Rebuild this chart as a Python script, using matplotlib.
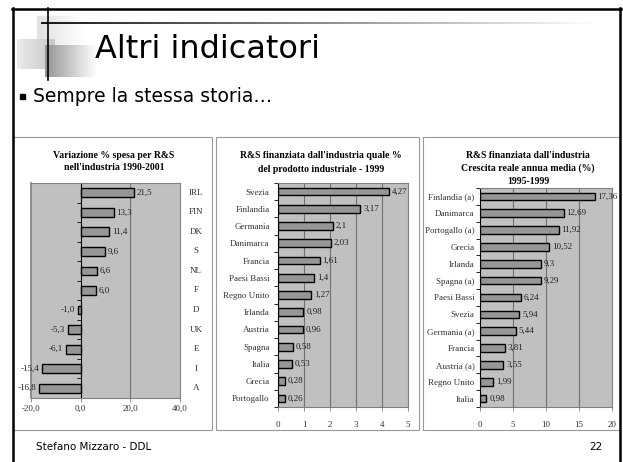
import numpy as np
import matplotlib

matplotlib.use("Agg")
import matplotlib.pyplot as plt
from matplotlib.patches import Rectangle
from matplotlib.transforms import blended_transform_factory

W, H = 623, 462

# chart 1: variazione % spesa R&S nell'industria 1990-2001
codes1 = ["IRL", "FIN", "DK", "S", "NL", "F", "D", "UK", "E", "I", "A"]
vals1 = [21.5, 13.3, 11.4, 9.6, 6.6, 6.0, -1.0, -5.3, -6.1, -15.4, -16.8]
ticks1 = [-20, 0, 20, 40]

# chart 2: R&S finanziata dall'industria, % prodotto industriale 1999
countries2 = ["Svezia", "Finlandia", "Germania", "Danimarca", "Francia",
              "Paesi Bassi", "Regno Unito", "Irlanda", "Austria", "Spagna",
              "Italia", "Grecia", "Portogallo"]
vals2 = [4.27, 3.17, 2.1, 2.03, 1.61, 1.4, 1.27, 0.98, 0.96, 0.58, 0.53, 0.28, 0.26]
ticks2 = [0, 1, 2, 3, 4, 5]

# chart 3: crescita reale annua media 1995-1999
countries3 = ["Finlandia (a)", "Danimarca", "Portogallo (a)", "Grecia", "Irlanda",
              "Spagna (a)", "Paesi Bassi", "Svezia", "Germania (a)", "Francia",
              "Austria (a)", "Regno Unito", "Italia"]
vals3 = [17.36, 12.69, 11.92, 10.52, 9.3, 9.29, 6.24, 5.94, 5.44, 3.81, 3.55, 1.99, 0.98]
ticks3 = [0, 5, 10, 15, 20]

SERIF = "Liberation Serif"
FS = 6.5
BAR = "#969696"
PLOT_BG = "#c0c0c0"
GRID = "#707070"


def comma(v, nd=None):
    s = f"{v:.{nd}f}" if nd is not None else f"{v:g}"
    return s.replace(".", ",")


def px_rect(x0, y0, x1, y1):
    return [x0 / W, 1 - y1 / H, (x1 - x0) / W, (y1 - y0) / H]


fig = plt.figure(figsize=(W / 100, H / 100), dpi=100)
fig.patch.set_facecolor("white")

# background / slide decoration in pixel coords
bg = fig.add_axes([0, 0, 1, 1], zorder=-5)
bg.axis("off")


def hgrad(x0, y0, x1, y1, c0, c1):
    g = np.linspace(0, 1, 64)[None, :, None]
    a = np.array(c0)[None, None, :]
    b = np.array(c1)[None, None, :]
    img = a + (b - a) * g
    bg.imshow(img, extent=(x0, x1, y1, y0), aspect="auto", interpolation="bilinear")


hgrad(37, 16, 83, 47, (0.88, 0.88, 0.88), (1, 1, 1))
hgrad(17, 39, 55, 69, (0.92, 0.92, 0.92), (0.78, 0.78, 0.78))
hgrad(45, 45, 97, 77, (0.58, 0.58, 0.58), (1, 1, 1))
hgrad(41, 22, 600, 24, (0.1, 0.1, 0.1), (1, 1, 1))
bg.plot([48, 48], [8, 80], color="black", lw=1.2)

# slide frame
bg.plot([13, 13], [8, H], color="black", lw=1.8)
bg.plot([12, 621], [9, 9], color="black", lw=1.8)
bg.plot([620, 620], [8, H], color="black", lw=1.8)

# panel boxes
for x0, x1 in [(13, 212), (216, 419), (423, 620)]:
    bg.add_patch(Rectangle((x0, 137), x1 - x0, 293, fill=False,
                           edgecolor="#9a9a9a", lw=0.8))
bg.set_xlim(0, W)
bg.set_ylim(H, 0)

fig.text(95 / W, 1 - 49 / H, "Altri indicatori", fontsize=23,
         family="DejaVu Sans", va="center", ha="left")
bg.add_patch(Rectangle((20, 94), 5, 5, color="black"))
fig.text(33 / W, 1 - 97 / H, "Sempre la stessa storia\u2026", fontsize=13.5,
         family="DejaVu Sans", va="center", ha="left")
fig.text(36 / W, 1 - 447 / H, "Stefano Mizzaro - DDL", fontsize=7.5,
         family="DejaVu Sans", va="center", ha="left")
fig.text(602 / W, 1 - 447 / H, "22", fontsize=7.5,
         family="DejaVu Sans", va="center", ha="right")


def chart(rect, cats, vals, ticks, tick_fmt, nd, zero_axis=False, xpad=2):
    ax = fig.add_axes(px_rect(*rect))
    n = len(cats)
    y = np.arange(n)
    ax.set_facecolor(PLOT_BG)
    ax.barh(y, vals, height=0.45, color=BAR, edgecolor="black",
            linewidth=1.0, zorder=3)
    ax.set_xlim(ticks[0], ticks[-1])
    ax.set_ylim(n - 0.5, -0.5)
    for t in ticks[1:-1]:
        if t != 0 or not zero_axis:
            ax.axvline(t, color=GRID, lw=0.8, zorder=1)
    for s in ax.spines.values():
        s.set_color("#808080")
        s.set_linewidth(0.8)
    ax.spines["left"].set_color("black")
    if zero_axis:
        ax.spines["left"].set_position(("data", 0))
        ax.axvline(ticks[0], color="#808080", lw=1.2, clip_on=False)
    ax.set_yticks(np.arange(-0.5, n, 1))
    ax.set_yticklabels([])
    ax.tick_params(axis="y", which="major", length=3, width=0.6, direction="out")
    ax.set_xticks(ticks)
    ax.set_xticklabels([tick_fmt(t) for t in ticks], family=SERIF,
                       fontsize=FS, color="#333333")
    ax.tick_params(axis="x", length=3, width=0.6, pad=xpad, color="#808080")
    for yi, v in zip(y, vals):
        ax.annotate(comma(v, nd), (v, yi), xytext=(2 if v >= 0 else -2, 0),
                    textcoords="offset points", ha="left" if v >= 0 else "right",
                    va="center", family=SERIF, fontsize=FS, color="#222222",
                    zorder=4)
    return ax


# chart 1
ax1 = chart((31, 183, 180, 398), codes1, vals1, ticks1,
            lambda t: comma(t, 1), 1, zero_axis=True, xpad=2)
tr = blended_transform_factory(ax1.transAxes, ax1.transData)
for i, c in enumerate(codes1):
    ax1.text((196 - 31) / (180 - 31), i, c, transform=tr, ha="center",
             va="center", family=SERIF, fontsize=FS, color="#333333")
fig.text(114 / W, 1 - 155 / H, "Variazione % spesa per R&S", ha="center",
         va="center", family=SERIF, fontsize=7, weight="bold")
fig.text(114 / W, 1 - 168 / H, "nell'industria 1990-2001", ha="center",
         va="center", family=SERIF, fontsize=7, weight="bold")

# chart 2
ax2 = chart((278, 183, 408, 407), countries2, vals2, ticks2,
            lambda t: str(t), None, xpad=7)
ax2.set_yticks(np.arange(len(countries2)), minor=True)
ax2.set_yticklabels(countries2, minor=True, family=SERIF, fontsize=FS,
                    color="#333333")
ax2.tick_params(axis="y", which="minor", length=0, pad=6)
fig.text(321 / W, 1 - 155 / H, "R&S finanziata dall'industria quale %",
         ha="center", va="center", family=SERIF, fontsize=7, weight="bold")
fig.text(321 / W, 1 - 169 / H, "del prodotto industriale - 1999",
         ha="center", va="center", family=SERIF, fontsize=7, weight="bold")

# chart 3
ax3 = chart((480, 188, 612, 407), countries3, vals3, ticks3,
            lambda t: str(t), None, xpad=7)
ax3.set_yticks(np.arange(len(countries3)), minor=True)
ax3.set_yticklabels(countries3, minor=True, family=SERIF, fontsize=FS,
                    color="#333333")
ax3.tick_params(axis="y", which="minor", length=0, pad=4)
for yy, s in [(155, "R&S finanziata dall'industria"),
              (168, "Crescita reale annua media (%)"),
              (181, "1995-1999")]:
    fig.text(528 / W, 1 - yy / H, s, ha="center", va="center", family=SERIF,
             fontsize=7, weight="bold")

fig.savefig("out.png", dpi=100)
